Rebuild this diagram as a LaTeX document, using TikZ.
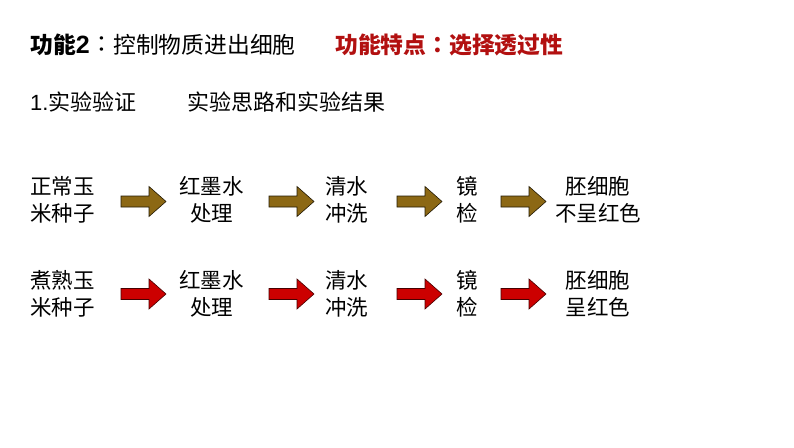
\documentclass[tikz,border=0pt]{standalone}
\usepackage{fontspec}
\setmainfont{Liberation Sans}
\newfontfamily\cjk{Noto Sans CJK SC}
\newfontfamily\cjktc{Noto Sans CJK TC}
\definecolor{olivefill}{RGB}{140,104,20}
\definecolor{redfill}{RGB}{204,0,0}
\definecolor{titlered}{RGB}{178,16,16}
\newcommand\blockarr[3]{% x, y, style
  \draw[#3] (#1,#2-5.5) -- ++(28,0) -- ++(0,-9.5) -- (#1+45,#2) -- (#1+28,#2+15) -- ++(0,-9.5) -- (#1,#2+5.5) -- cycle;}
\tikzset{
  lbl/.style={font=\cjk\fontsize{21.5}{26.8}\selectfont, align=center, inner sep=0pt},
  ttl/.style={font=\fontsize{22.8}{27}\selectfont, inner sep=0pt, anchor=west},
  sub/.style={font=\fontsize{22}{26}\selectfont, inner sep=0pt, anchor=west},
  olivearr/.style={fill=olivefill, draw=black!75!olivefill, line width=0.6pt},
  redarr/.style={fill=redfill, draw=black!65!redfill, line width=0.6pt},
}
\begin{document}
\begin{tikzpicture}[x=1pt,y=-1pt]
\useasboundingbox[fill=white] (0,0) rectangle (794,447);
% title
\node[ttl] (t1) at (30,45) {\bfseries{\cjk 功能}{\fontsize{25}{27}\selectfont 2}};
\node[ttl, anchor=center] (t2) at (102,45) {\cjktc ：};
\node[ttl] (t3) at (113,45) {\cjk 控制物质进出细胞};
\node[ttl, text=titlered] (t4) at (335,45) {\bfseries{\cjk 功能特点}{\cjktc ：}{\cjk 选择透过性}};
% subtitle
\node[sub] (s1) at (30,102) {1.{\cjk 实验验证}};
\node[sub] (s2) at (187,102) {\cjk 实验思路和实验结果};
% row 1
\node[lbl] (a1) at (62.5,200) {正常玉\\米种子};
\node[lbl] (a2) at (211.5,200) {红墨水\\处理};
\node[lbl] (a3) at (346.5,200) {清水\\冲洗};
\node[lbl] (a4) at (467.5,200) {镜\\检};
\node[lbl] (a5) at (598,200) {胚细胞\\不呈红色};
\blockarr{121}{201.5}{olivearr}
\blockarr{269}{201.5}{olivearr}
\blockarr{397}{201.5}{olivearr}
\blockarr{501}{201.5}{olivearr}
% row 2
\node[lbl] (b1) at (62.5,293.5) {煮熟玉\\米种子};
\node[lbl] (b2) at (211.5,293.5) {红墨水\\处理};
\node[lbl] (b3) at (346.5,293.5) {清水\\冲洗};
\node[lbl] (b4) at (467.5,293.5) {镜\\检};
\node[lbl] (b5) at (598,293.5) {胚细胞\\呈红色};
\blockarr{121}{294}{redarr}
\blockarr{269}{294}{redarr}
\blockarr{397}{294}{redarr}
\blockarr{501}{294}{redarr}
\end{tikzpicture}
\end{document}
